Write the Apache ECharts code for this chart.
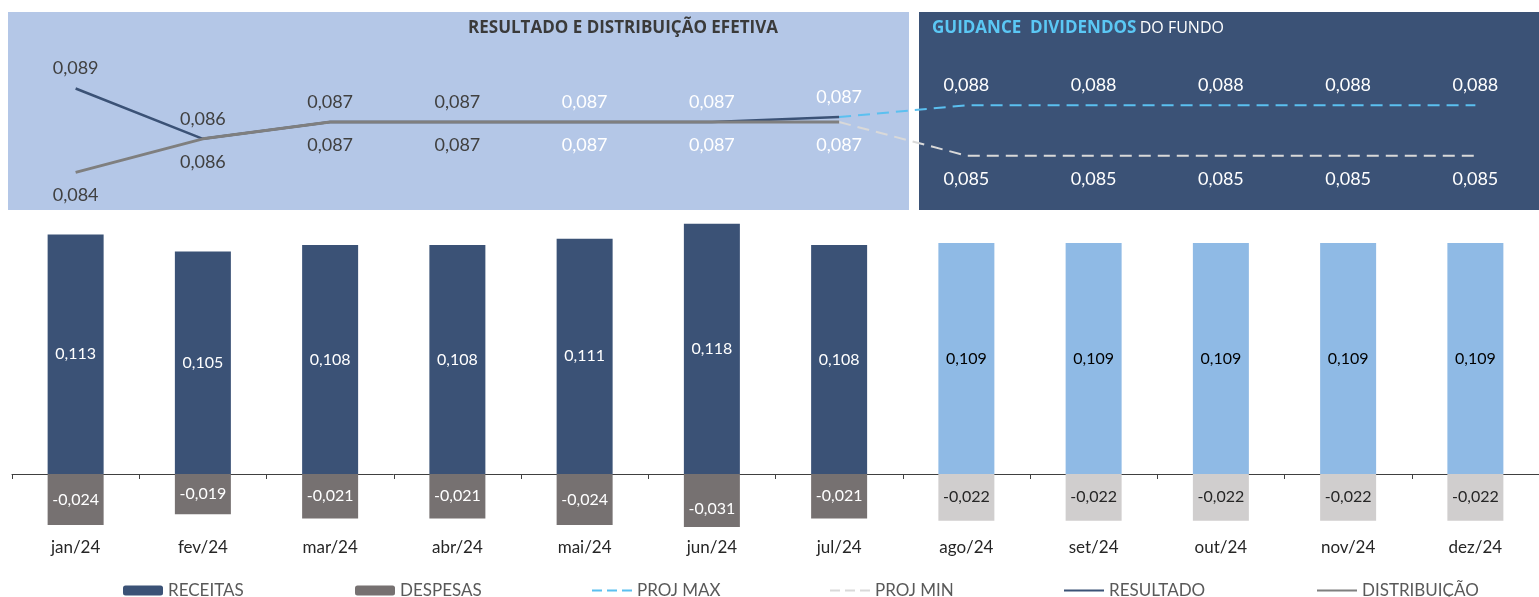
<!DOCTYPE html>
<html lang="pt">
<head>
    <meta charset="UTF-8">
    <title>Resultado e distribuição</title>
    <script src="https://cdn.jsdelivr.net/npm/echarts@6/dist/echarts.min.js"></script>
    <style>
        html, body { margin: 0; padding: 0; background: #fff; }
        #main { width: 1539px; height: 597px; }
    </style>
</head>
<body>
    <div id="main"></div>
    <script>
    // dados
    var meses = ['jan/24', 'fev/24', 'mar/24', 'abr/24', 'mai/24', 'jun/24', 'jul/24', 'ago/24', 'set/24', 'out/24', 'nov/24', 'dez/24'];
    var receitas = [0.113, 0.105, 0.108, 0.108, 0.111, 0.118, 0.108, 0.109, 0.109, 0.109, 0.109, 0.109];
    var despesas = [-0.024, -0.019, -0.021, -0.021, -0.024, -0.031, -0.021, -0.022, -0.022, -0.022, -0.022, -0.022];
    var resultado = [0.089, 0.086, 0.087, 0.087, 0.087, 0.087, 0.0873, null, null, null, null, null];
    var distribuicao = [0.084, 0.086, 0.087, 0.087, 0.087, 0.087, 0.087, null, null, null, null, null];
    var projMax = [null, null, null, null, null, null, 0.0873, 0.088, 0.088, 0.088, 0.088, 0.088];
    var projMin = [null, null, null, null, null, null, 0.087, 0.085, 0.085, 0.085, 0.085, 0.085];
    var nRealizado = 7;

    var FONT = 'Lato';
    var NAVY = '#3b5276', GRAY = '#767171', LBLUE = '#8fbae5', LGRAY = '#d0cece';
    var ICON_DASH = 'path://M0,0h10v2h-10z M15,0h10v2h-10z M30,0h10v2h-10z';
    var ICON_LINE = 'path://M0,0h40v2h-40z';
    var Y_MIN_BAR = -0.025;

    function fmt(v) { return v.toFixed(3).replace('.', ','); }

    var barRec = receitas.map(function (v, i) {
        return i < nRealizado ? v : { value: v, itemStyle: { color: LBLUE }, label: { color: '#000' } };
    });
    var barDesp = despesas.map(function (v, i) {
        var d = { value: v, label: {} };
        if (i >= nRealizado) { d.itemStyle = { color: LGRAY }; d.label.color = '#262626'; }
        // barra cortada no minimo do eixo: rotulo fica no centro da barra inteira
        if (v < Y_MIN_BAR) d.label.offset = [0, 8];
        return d;
    });
    // rótulos das linhas: cinza nos primeiros meses, branco depois
    function lineData(arr) {
        return arr.map(function (v, i) {
            if (v == null) return '-';
            return { value: v, label: { color: i < 4 ? '#404040' : '#fff' } };
        });
    }
    function projData(arr) {
        return arr.map(function (v, i) {
            if (v == null) return '-';
            return { value: v, label: { show: i >= nRealizado } };
        });
    }

    var myChart = echarts.init(document.getElementById('main'));
    var option = {
        animation: false,
        textStyle: { fontFamily: FONT },
        graphic: [
            { type: 'rect', z: 0, shape: { x: 8, y: 12, width: 901, height: 198 }, style: { fill: '#b4c7e7' } },
            { type: 'rect', z: 0, shape: { x: 919, y: 12, width: 620, height: 198 }, style: { fill: NAVY } },
            { type: 'text', z: 1, x: 623, y: 28, style: { text: 'RESULTADO E DISTRIBUIÇÃO EFETIVA', fill: '#3a3a3a',
                fontFamily: 'Open Sans', fontWeight: 'bold', fontSize: 17, textAlign: 'center', textVerticalAlign: 'middle' } },
            { type: 'text', z: 1, x: 932, y: 28, style: {
                text: '{b|GUIDANCE  DIVIDENDOS} {n|DO FUNDO}', textVerticalAlign: 'middle',
                rich: {
                    b: { fill: '#5bc8f5', fontFamily: 'Open Sans', fontWeight: 'bold', fontSize: 17 },
                    n: { fill: '#fff', fontFamily: 'Open Sans', fontSize: 16 }
                }
            } }
        ],
        legend: [
            { left: 123, data: ['RECEITAS'] },
            { left: 355, data: ['DESPESAS'] },
            { left: 592, data: ['PROJ MAX'], icon: ICON_DASH, itemHeight: 2 },
            { left: 830, data: ['PROJ MIN'], icon: ICON_DASH, itemHeight: 2 },
            { left: 1064, data: ['RESULTADO'], icon: ICON_LINE, itemHeight: 2 },
            { left: 1317, data: ['DISTRIBUIÇÃO'], icon: ICON_LINE, itemHeight: 2 }
        ].map(function (l) {
            l.top = 582;
            l.padding = 0;
            l.itemWidth = 40;
            if (!l.itemHeight) l.itemHeight = 10;
            l.textStyle = { fontFamily: FONT, fontSize: 17, color: '#595959' };
            return l;
        }),
        grid: [
            { left: 12, width: 1528, top: 209, height: 318 },
            { left: 12, width: 1528, top: 13, height: 198 }
        ],
        xAxis: [
            { type: 'category', gridIndex: 0, data: meses,
              axisLine: { onZero: true, lineStyle: { color: '#404040', width: 1 } },
              axisTick: { show: true, length: 5, lineStyle: { color: '#404040' } },
              axisLabel: { show: false } },
            { type: 'category', gridIndex: 0, data: meses, position: 'bottom',
              axisLine: { show: false, onZero: false }, axisTick: { show: false },
              axisLabel: { margin: 12, fontFamily: FONT, fontSize: 17, color: '#262626' } },
            { type: 'category', gridIndex: 1, data: meses, show: false }
        ],
        yAxis: [
            { type: 'value', gridIndex: 0, min: Y_MIN_BAR, max: 0.125, show: false },
            { type: 'value', gridIndex: 1, min: 0.0817, max: 0.0935, show: false }
        ],
        series: [
            {
                name: 'RECEITAS', type: 'bar', xAxisIndex: 0, yAxisIndex: 0,
                barWidth: 56, barGap: '-100%', data: barRec,
                itemStyle: { color: NAVY },
                label: { show: true, position: 'inside', color: '#fff', fontFamily: FONT, fontSize: 16,
                    formatter: function (p) { return fmt(p.value); } }
            },
            {
                name: 'DESPESAS', type: 'bar', xAxisIndex: 0, yAxisIndex: 0,
                barWidth: 56, barGap: '-100%', data: barDesp,
                itemStyle: { color: GRAY },
                label: { show: true, position: 'inside', color: '#fff', fontFamily: FONT, fontSize: 16,
                    formatter: function (p) { return fmt(p.value); } }
            },
            {
                name: 'PROJ MAX', type: 'line', xAxisIndex: 2, yAxisIndex: 1,
                data: projData(projMax), symbol: 'circle', symbolSize: 0, z: 3,
                lineStyle: { color: '#5bc0f0', width: 2, type: [12, 7] },
                itemStyle: { color: '#5bc0f0' },
                label: { show: true, position: 'top', distance: 11, color: '#fff', fontFamily: FONT, fontSize: 18,
                    formatter: function (p) { return fmt(p.value); } }
            },
            {
                name: 'PROJ MIN', type: 'line', xAxisIndex: 2, yAxisIndex: 1,
                data: projData(projMin), symbol: 'circle', symbolSize: 0, z: 3,
                lineStyle: { color: '#d9d9d9', width: 2, type: [12, 7] },
                itemStyle: { color: '#d9d9d9' },
                label: { show: true, position: 'bottom', distance: 15, color: '#fff', fontFamily: FONT, fontSize: 18,
                    formatter: function (p) { return fmt(p.value); } }
            },
            {
                name: 'RESULTADO', type: 'line', xAxisIndex: 2, yAxisIndex: 1,
                data: lineData(resultado), symbol: 'circle', symbolSize: 0, z: 5,
                lineStyle: { color: NAVY, width: 2.5 },
                itemStyle: { color: NAVY },
                label: { show: true, position: 'top', distance: 11, fontFamily: FONT, fontSize: 18,
                    formatter: function (p) { return fmt(p.value); } }
            },
            {
                name: 'DISTRIBUIÇÃO', type: 'line', xAxisIndex: 2, yAxisIndex: 1,
                data: lineData(distribuicao), symbol: 'circle', symbolSize: 0, z: 6,
                lineStyle: { color: '#7f7f7f', width: 3 },
                itemStyle: { color: '#7f7f7f' },
                label: { show: true, position: 'bottom', distance: 14, fontFamily: FONT, fontSize: 18,
                    formatter: function (p) { return fmt(p.value); } }
            }
        ]
    };
    myChart.setOption(option);
    </script>
</body>
</html>
